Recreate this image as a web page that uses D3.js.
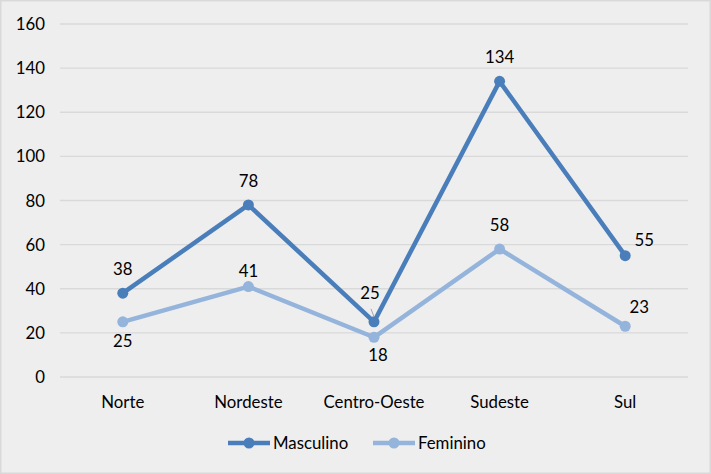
<!DOCTYPE html>
<html><head><meta charset="utf-8">
<script src="https://cdn.jsdelivr.net/npm/d3@7"></script>
<style>body{margin:0;background:#fff;} svg{display:block;font-family:Lato,"Open Sans",sans-serif;}</style>
</head><body>
<script>
const categories = ["Norte","Nordeste","Centro-Oeste","Sudeste","Sul"];
const masculino = [38,78,25,134,55];
const feminino = [25,41,18,58,23];
const yTicks = [0,20,40,60,80,100,120,140,160];
const seriesNames = ["Masculino","Feminino"];

const W=711,H=474;
const svg=d3.select("body").append("svg").attr("width",W).attr("height",H);
svg.append("rect").attr("x",0.5).attr("y",0.5).attr("width",W-1).attr("height",H-1).attr("fill","#eeeeee").attr("stroke","#d9d9d9").attr("stroke-width",2);

const x=d3.scaleBand().domain(categories).range([60,688]);
const y=d3.scaleLinear().domain([0,160]).range([377,24]);
const cx=c=>x(c)+x.bandwidth()/2;
const FS=16.8;

const grid=svg.append("g");
yTicks.forEach(t=>{
  grid.append("line").attr("x1",60).attr("x2",688).attr("y1",y(t)).attr("y2",y(t)).attr("stroke","#d9d9d9").attr("stroke-width",1.3);
  grid.append("text").attr("x",45).attr("y",y(t)+6).attr("text-anchor","end").attr("font-size",FS).attr("fill","#000").text(t);
});
categories.forEach(c=>{
  svg.append("text").attr("x",cx(c)).attr("y",408).attr("text-anchor","middle").attr("font-size",FS).attr("fill","#000").text(c);
});

const colors=["#4a7ebb","#94b4dc"];
const data=[masculino,feminino];
const line=d3.line().x((d,i)=>cx(categories[i])).y(d=>y(d));
data.forEach((s,k)=>{
  svg.append("path").datum(s).attr("d",line).attr("fill","none").attr("stroke",colors[k]).attr("stroke-width",4.5).attr("stroke-linejoin","round");
  svg.selectAll(null).data(s).enter().append("circle").attr("cx",(d,i)=>cx(categories[i])).attr("cy",d=>y(d)).attr("r",5.5).attr("fill",colors[k]);
});

// label offsets [dx,dy] relative to point
const mOff=[[0,-18],[0,-18],[-4,-23],[0,-18],[19,-10]];
const fOff=[[0,25],[0,-10],[4,24],[0,-18],[14,-13]];
svg.append("line").attr("x1",cx(categories[2])-3).attr("y1",y(25)-13).attr("x2",cx(categories[2])).attr("y2",y(25)-5).attr("stroke","#a6a6a6").attr("stroke-width",1);
[[masculino,mOff],[feminino,fOff]].forEach(([s,off])=>{
  s.forEach((d,i)=>{
    svg.append("text").attr("x",cx(categories[i])+off[i][0]).attr("y",y(d)+off[i][1]).attr("text-anchor","middle").attr("font-size",FS).attr("fill","#000").text(d);
  });
});

// legend
const lg=[{x:228,name:seriesNames[0],c:colors[0]},{x:373,name:seriesNames[1],c:colors[1]}];
lg.forEach(l=>{
  svg.append("line").attr("x1",l.x).attr("x2",l.x+42).attr("y1",443).attr("y2",443).attr("stroke",l.c).attr("stroke-width",4.5);
  svg.append("circle").attr("cx",l.x+21).attr("cy",443).attr("r",5.5).attr("fill",l.c);
  svg.append("text").attr("x",l.x+45).attr("y",449).attr("font-size",FS).attr("fill","#000").text(l.name);
});
</script>
</body></html>
